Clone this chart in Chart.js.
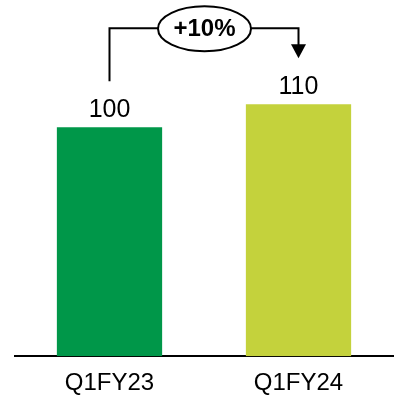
<!DOCTYPE html>
<html>
<head>
<meta charset="utf-8">
<script src="https://cdn.jsdelivr.net/npm/chart.js@4/dist/chart.umd.min.js"></script>
<style>
  html, body { margin: 0; padding: 0; background: #ffffff; }
  #wrap { width: 398px; height: 396px; }
</style>
</head>
<body>
<div id="wrap"><canvas id="c" width="398" height="396"></canvas></div>
<script>
// Quarterly comparison
const categories = ["Q1FY23", "Q1FY24"];
const values = [100, 110];
const barColors = ["#009749", "#C4D23C"];
const growthLabel = "+10%";

const FONT = '"Liberation Sans", Arial, sans-serif';

// Value labels above the bars plus the bracket arrow with the growth badge
const annotate = {
  id: "annotate",
  afterDatasetsDraw(chart) {
    const ctx = chart.ctx;
    const bars = chart.getDatasetMeta(0).data;
    ctx.save();
    ctx.fillStyle = "#000";
    ctx.font = "25px " + FONT;
    ctx.textAlign = "center";
    ctx.textBaseline = "alphabetic";
    bars.forEach((b, i) => {
      ctx.fillText(String(values[i]), b.x, b.y - 10);
    });

    const a = bars[0], z = bars[1];
    const topY = Math.min(a.y, z.y) - 76;
    const startY = a.y - 46;
    const tipY = z.y - 46;
    const ex = (a.x + z.x) / 2 + 0.5, rx = 46.5, ry = 22.5;

    ctx.strokeStyle = "#000";
    ctx.lineWidth = 2;
    ctx.beginPath();
    ctx.moveTo(a.x, startY);
    ctx.lineTo(a.x, topY);
    ctx.lineTo(z.x, topY);
    ctx.lineTo(z.x, tipY - 13);
    ctx.stroke();

    // arrow head
    ctx.beginPath();
    ctx.moveTo(z.x - 7.5, tipY - 14);
    ctx.lineTo(z.x + 7.5, tipY - 14);
    ctx.lineTo(z.x, tipY);
    ctx.closePath();
    ctx.fill();

    // growth badge
    ctx.beginPath();
    ctx.ellipse(ex, topY + 0.5, rx, ry, 0, 0, Math.PI * 2);
    ctx.fillStyle = "#fff";
    ctx.fill();
    ctx.stroke();
    ctx.fillStyle = "#000";
    ctx.font = "bold 24px " + FONT;
    ctx.textBaseline = "middle";
    ctx.fillText(growthLabel, ex, topY + 1);
    ctx.restore();
  }
};

new Chart(document.getElementById("c"), {
  type: "bar",
  data: {
    labels: categories,
    datasets: [{
      data: values,
      backgroundColor: barColors,
      borderWidth: 0,
      categoryPercentage: 1,
      barPercentage: 0.557
    }]
  },
  options: {
    responsive: false,
    animation: false,
    layout: { padding: { left: 15, right: 5, top: 0, bottom: -15 } },
    plugins: { legend: { display: false }, tooltip: { enabled: false } },
    scales: {
      x: {
        grid: { display: false, drawTicks: false },
        border: { display: true, color: "#000", width: 2 },
        ticks: { color: "#000", font: { family: FONT, size: 24 }, padding: 13 }
      },
      y: {
        display: false,
        min: 0,
        max: 155.5
      }
    }
  },
  plugins: [annotate]
});
</script>
</body>
</html>
